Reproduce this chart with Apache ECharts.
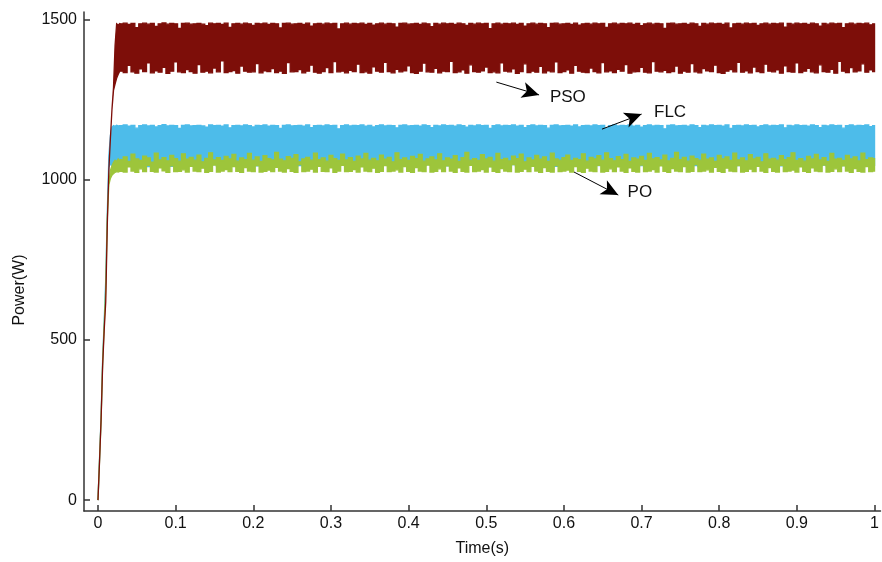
<!DOCTYPE html>
<html>
<head>
<meta charset="utf-8">
<script src="https://cdn.jsdelivr.net/npm/echarts@6/dist/echarts.min.js"></script>
<style>
  html, body { margin: 0; padding: 0; background: #fff; }
  #chart { width: 882px; height: 562px; }
</style>
</head>
<body>
<div id="chart"></div>
<script>
// time samples (s): start-up first, then the steady part
const time = [
  0, 0.002, 0.004, 0.006, 0.008, 0.010, 0.012, 0.014, 0.016, 0.018, 0.020, 0.022, 0.024, 0.026, 0.028,
  0.030, 0.035, 0.040, 0.045, 0.050, 0.055, 0.060, 0.065, 0.070, 0.075, 0.080, 0.085, 0.090, 0.095, 0.100, 0.105, 0.110, 0.115, 0.120, 0.125,
  0.130, 0.135, 0.140, 0.145, 0.150, 0.155, 0.160, 0.165, 0.170, 0.175, 0.180, 0.185, 0.190, 0.195, 0.200, 0.205, 0.210, 0.215, 0.220, 0.225,
  0.230, 0.235, 0.240, 0.245, 0.250, 0.255, 0.260, 0.265, 0.270, 0.275, 0.280, 0.285, 0.290, 0.295, 0.300, 0.305, 0.310, 0.315, 0.320, 0.325,
  0.330, 0.335, 0.340, 0.345, 0.350, 0.355, 0.360, 0.365, 0.370, 0.375, 0.380, 0.385, 0.390, 0.395, 0.400, 0.405, 0.410, 0.415, 0.420, 0.425,
  0.430, 0.435, 0.440, 0.445, 0.450, 0.455, 0.460, 0.465, 0.470, 0.475, 0.480, 0.485, 0.490, 0.495, 0.500, 0.505, 0.510, 0.515, 0.520, 0.525,
  0.530, 0.535, 0.540, 0.545, 0.550, 0.555, 0.560, 0.565, 0.570, 0.575, 0.580, 0.585, 0.590, 0.595, 0.600, 0.605, 0.610, 0.615, 0.620, 0.625,
  0.630, 0.635, 0.640, 0.645, 0.650, 0.655, 0.660, 0.665, 0.670, 0.675, 0.680, 0.685, 0.690, 0.695, 0.700, 0.705, 0.710, 0.715, 0.720, 0.725,
  0.730, 0.735, 0.740, 0.745, 0.750, 0.755, 0.760, 0.765, 0.770, 0.775, 0.780, 0.785, 0.790, 0.795, 0.800, 0.805, 0.810, 0.815, 0.820, 0.825,
  0.830, 0.835, 0.840, 0.845, 0.850, 0.855, 0.860, 0.865, 0.870, 0.875, 0.880, 0.885, 0.890, 0.895, 0.900, 0.905, 0.910, 0.915, 0.920, 0.925,
  0.930, 0.935, 0.940, 0.945, 0.950, 0.955, 0.960, 0.965, 0.970, 0.975, 0.980, 0.985, 0.990, 0.995, 1.000
];

// PSO: upper / lower edge of the oscillation (W)
const psoHigh = [
  0, 120, 250, 420, 530, 620, 860, 1030, 1130, 1220, 1290, 1420, 1488, 1484, 1489,
  1488,1490,1486,1489,1476,1488,1490,1487,1489,1480,1488,1491,1487,1489,1488,1474,1489,1490,1487,1488,
  1489,1487,1482,1490,1488,1489,1486,1490,1477,1488,1489,1487,1490,1488,1483,1489,1488,1490,1486,1489,
  1488,1475,1489,1490,1487,1488,1489,1486,1490,1481,1488,1489,1487,1490,1488,1489,1472,1488,1490,1487,
  1489,1488,1490,1486,1489,1484,1488,1490,1487,1489,1488,1478,1489,1490,1487,1488,1489,1486,1490,1488,
  1479,1489,1487,1490,1488,1489,1486,1490,1488,1483,1489,1487,1490,1488,1489,1473,1488,1490,1487,1489,
  1488,1490,1486,1489,1481,1488,1490,1487,1489,1488,1476,1489,1490,1487,1488,1489,1486,1490,1484,1488,
  1489,1487,1490,1488,1489,1477,1488,1490,1487,1489,1488,1490,1486,1489,1482,1488,1490,1487,1489,1488,
  1474,1489,1490,1487,1488,1489,1486,1490,1488,1480,1489,1487,1490,1488,1489,1486,1490,1475,1488,1489,
  1487,1490,1488,1489,1483,1488,1490,1487,1489,1488,1490,1478,1489,1487,1490,1488,1489,1486,1490,1488,
  1481,1489,1487,1490,1488,1489,1476,1488,1490,1487,1489,1488,1490,1485,1488
];
const psoLow = [
  0, 120, 250, 420, 530, 620, 860, 1030, 1130, 1220, 1280, 1300, 1318, 1330, 1340,
  1340,1336,1358,1338,1334,1347,1339,1366,1335,1341,1337,1352,1333,1340,1369,1338,1336,1345,1339,1334,
  1361,1337,1340,1335,1350,1338,1372,1336,1339,1342,1334,1356,1340,1337,1338,1364,1335,1341,1339,1348,
  1336,1340,1333,1367,1338,1339,1345,1335,1340,1359,1337,1334,1339,1351,1336,1370,1338,1340,1335,1343,
  1339,1362,1336,1338,1334,1354,1340,1337,1368,1339,1335,1346,1338,1341,1357,1336,1333,1340,1365,1338,
  1337,1349,1335,1340,1339,1371,1336,1338,1344,1334,1360,1339,1337,1341,1353,1336,1338,1335,1366,1340,
  1338,1347,1333,1339,1363,1336,1340,1337,1355,1335,1341,1338,1369,1336,1339,1344,1334,1358,1340,1337,
  1336,1350,1339,1335,1367,1338,1341,1336,1346,1340,1361,1334,1338,1339,1352,1337,1335,1370,1340,1338,
  1343,1336,1339,1356,1334,1340,1337,1364,1338,1335,1348,1341,1339,1359,1336,1333,1340,1345,1338,1368,
  1337,1341,1335,1353,1339,1336,1362,1340,1338,1344,1334,1357,1339,1337,1366,1336,1340,1349,1338,1335,
  1360,1339,1337,1346,1334,1371,1340,1336,1351,1338,1341,1363,1337,1344,1339
];

// FLC
const flcHigh = [
  0, 130, 260, 440, 560, 690, 900, 1075, 1140, 1165, 1170, 1168, 1171, 1169, 1170,
  1170,1172,1168,1171,1162,1170,1172,1169,1171,1166,1170,1173,1169,1171,1170,1161,1171,1172,1169,1170,
  1171,1169,1165,1172,1170,1171,1168,1172,1163,1170,1171,1169,1172,1170,1166,1171,1170,1172,1168,1171,
  1170,1161,1171,1172,1169,1170,1171,1168,1172,1164,1170,1171,1169,1172,1170,1171,1160,1170,1172,1169,
  1171,1170,1172,1168,1171,1166,1170,1172,1169,1171,1170,1163,1171,1172,1169,1170,1171,1168,1172,1170,
  1164,1171,1169,1172,1170,1171,1168,1172,1170,1165,1171,1169,1172,1170,1171,1161,1170,1172,1169,1171,
  1170,1172,1168,1171,1164,1170,1172,1169,1171,1170,1162,1171,1172,1169,1170,1171,1168,1172,1166,1170,
  1171,1169,1172,1170,1171,1162,1170,1172,1169,1171,1170,1172,1168,1171,1165,1170,1172,1169,1171,1170,
  1160,1171,1172,1169,1170,1171,1168,1172,1170,1164,1171,1169,1172,1170,1171,1168,1172,1161,1170,1171,
  1169,1172,1170,1171,1166,1170,1172,1169,1171,1170,1172,1163,1171,1169,1172,1170,1171,1168,1172,1170,
  1164,1171,1169,1172,1170,1171,1162,1170,1172,1169,1171,1170,1172,1167,1170
];
const flcLow = [
  0, 130, 260, 440, 560, 690, 900, 1040, 1050, 1046, 1044, 1047, 1045, 1046, 1044,
  1046,1044,1048,1045,1043,1047,1046,1042,1049,1045,1044,1047,1046,1043,1048,1045,1044,1046,1047,1043,
  1045,1047,1044,1046,1048,1043,1045,1047,1046,1044,1049,1045,1043,1046,1047,1044,1048,1045,1046,1042,
  1047,1045,1043,1048,1046,1044,1045,1047,1042,1046,1045,1048,1044,1046,1043,1047,1045,1049,1044,1046,
  1044,1046,1047,1043,1045,1048,1046,1044,1047,1045,1042,1046,1048,1045,1044,1047,1043,1046,1045,1048,
  1046,1043,1045,1047,1044,1046,1049,1045,1043,1047,1046,1044,1048,1045,1046,1042,1047,1045,1044,1046,
  1045,1048,1044,1046,1043,1047,1045,1046,1049,1044,1045,1047,1043,1046,1048,1045,1044,1046,1047,1043,
  1047,1044,1046,1045,1048,1043,1046,1044,1047,1045,1042,1046,1048,1044,1045,1047,1046,1043,1045,1048,
  1044,1046,1043,1047,1045,1048,1044,1046,1045,1042,1047,1046,1044,1049,1045,1043,1046,1047,1044,1045,
  1046,1045,1048,1043,1046,1044,1047,1045,1046,1049,1044,1045,1043,1047,1046,1044,1048,1045,1046,1043,
  1045,1047,1044,1046,1048,1043,1045,1046,1047,1044,1046,1045,1048,1044,1046
];

// PO
const poHigh = [
  0, 125, 250, 430, 545, 660, 880, 990, 1030, 1045, 1055, 1062, 1058, 1066, 1061,
  1064,1072,1058,1081,1066,1061,1075,1069,1056,1084,1063,1070,1060,1077,1067,1059,1082,1065,1071,1062,
  1078,1057,1068,1085,1063,1070,1061,1074,1066,1080,1059,1069,1064,1083,1062,1072,1058,1076,1067,1063,
  1086,1065,1060,1073,1068,1079,1057,1066,1071,1062,1084,1064,1069,1059,1077,1067,1061,1081,1063,1070,
  1058,1075,1066,1083,1062,1068,1060,1078,1065,1071,1057,1085,1064,1069,1061,1074,1067,1080,1059,1066,
  1072,1063,1082,1060,1069,1065,1076,1058,1070,1086,1062,1067,1061,1079,1066,1071,1059,1083,1064,1068,
  1060,1075,1067,1081,1057,1069,1063,1077,1065,1072,1058,1084,1066,1062,1070,1078,1061,1068,1064,1082,
  1059,1071,1066,1076,1062,1085,1067,1060,1073,1064,1080,1058,1069,1065,1074,1061,1083,1066,1070,1063,
  1078,1060,1068,1086,1064,1071,1059,1075,1067,1062,1081,1065,1069,1058,1077,1066,1072,1061,1084,1063,
  1069,1060,1079,1066,1071,1057,1082,1065,1068,1062,1076,1064,1070,1085,1061,1067,1059,1074,1066,1080,
  1063,1070,1058,1083,1065,1068,1061,1077,1066,1072,1060,1084,1064,1069,1067
];
const poLow = [
  0, 125, 250, 430, 545, 660, 880, 985, 1005, 1015, 1020, 1024, 1026, 1025, 1027,
  1027,1025,1041,1028,1024,1035,1026,1046,1027,1025,1038,1029,1024,1044,1026,1027,1032,1025,1043,1028,
  1026,1037,1024,1027,1047,1025,1028,1033,1026,1042,1027,1024,1039,1028,1026,1045,1025,1027,1031,1026,
  1040,1028,1025,1036,1027,1024,1048,1026,1028,1034,1025,1043,1027,1026,1038,1024,1028,1046,1026,1027,
  1033,1025,1041,1028,1026,1037,1024,1027,1045,1026,1028,1032,1025,1042,1027,1024,1039,1028,1026,1047,
  1025,1027,1035,1026,1044,1028,1024,1038,1027,1025,1046,1026,1028,1033,1025,1041,1027,1024,1036,1028,
  1026,1048,1025,1027,1034,1026,1043,1028,1024,1039,1027,1025,1045,1026,1028,1031,1025,1042,1027,1024,
  1037,1028,1026,1046,1025,1027,1035,1026,1041,1028,1024,1038,1027,1025,1047,1026,1028,1033,1025,1044,
  1027,1024,1036,1028,1026,1042,1025,1027,1048,1026,1028,1032,1025,1040,1027,1024,1037,1028,1026,1045,
  1025,1027,1034,1026,1043,1028,1024,1039,1027,1025,1046,1026,1028,1031,1025,1041,1027,1024,1038,1028,
  1026,1047,1025,1027,1035,1026,1044,1028,1024,1036,1027,1025,1042,1026,1028
];

const xTicks = [0, 0.1, 0.2, 0.3, 0.4, 0.5, 0.6, 0.7, 0.8, 0.9, 1];
const yTicks = [0, 500, 1000, 1500];

// arrows + labels: [name, arrow start, arrow end, label anchor]
const notes = [
  ['PSO', [0.513, 1306], [0.568, 1266], [0.582, 1258]],
  ['FLC', [0.649, 1159], [0.700, 1206], [0.716, 1212]],
  ['PO',  [0.613, 1025], [0.670, 953],  [0.682, 962]]
];

const font = "'Liberation Sans', Arial, sans-serif";
const steadyFrom = 0.03;   // before this the start-up ramp is drawn as a plain line

let chart = echarts.init(document.getElementById('chart'), null, { renderer: 'canvas' });

// 一条带：上沿 high、下沿 low，稳态部分为阶梯形多边形
function band(name, color, low, high) {
    return {
        name: name,
        type: 'custom',
        silent: true,
        clip: true,
        encode: { x: 0, y: [1, 2] },
        data: time.map((t, i) => [t, low[i], high[i]]),
        renderItem: function (params, api) {
            if (params.dataIndex !== 0) return null;
            let top = [], bottom = [];
            let n = time.length;
            for (let i = 0; i < n; i++) {
                if (time[i] < steadyFrom) {
                    top.push(api.coord([time[i], high[i]]));
                    bottom.push(api.coord([time[i], low[i]]));
                    continue;
                }
                let a = (time[i - 1] + time[i]) / 2;
                let b = i === n - 1 ? time[i] : (time[i] + time[i + 1]) / 2;
                top.push(api.coord([a, high[i]]), api.coord([b, high[i]]));
                bottom.push(api.coord([a, low[i]]), api.coord([b, low[i]]));
            }
            return {
                type: 'polygon',
                shape: { points: top.concat(bottom.reverse()) },
                style: { fill: color, stroke: color, lineWidth: 1.3 }
            };
        }
    };
}

let series = [
    band('FLC', '#4dbcea', flcLow, flcHigh),
    band('PO', '#9dc53b', poLow, poHigh),
    band('PSO', '#7d0e09', psoLow, psoHigh)
];

series.push({
    name: 'notes',
    type: 'line',
    data: [],
    silent: true,
    z: 10,
    markLine: {
        silent: true,
        symbol: ['none', 'arrow'],
        symbolSize: [12, 17],
        label: { show: false },
        lineStyle: { color: '#000', width: 1, type: 'solid' },
        data: notes.map(n => [{ coord: n[1] }, { coord: n[2] }])
    },
    markPoint: {
        silent: true,
        symbol: 'circle',
        symbolSize: 0,
        label: {
            show: true,
            position: 'right',
            distance: 0,
            color: '#111',
            fontSize: 17,
            fontFamily: font,
            formatter: p => p.name
        },
        data: notes.map(n => ({ name: n[0], coord: n[3] }))
    }
});

chart.setOption({
    animation: false,
    backgroundColor: '#fff',
    grid: {
        left: 84,
        right: 1,
        top: 12,
        bottom: 51
    },
    xAxis: {
        type: 'value',
        min: -0.018,
        max: 1.0077,
        name: 'Time(s)',
        nameLocation: 'middle',
        nameGap: 30,
        nameTextStyle: { color: '#111', fontSize: 16, fontFamily: font },
        axisLine: { show: true, onZero: false, lineStyle: { color: '#333', width: 1.5 } },
        axisTick: { show: true, inside: true, length: 6, customValues: xTicks, lineStyle: { color: '#333', width: 1.5 } },
        axisLabel: { customValues: xTicks, color: '#111', fontSize: 16, fontFamily: font, margin: 5,
            formatter: v => String(v) },
        splitLine: { show: false }
    },
    yAxis: {
        type: 'value',
        min: -34,
        max: 1525,
        name: 'Power(W)',
        nameLocation: 'middle',
        nameGap: 56,
        nameTextStyle: { color: '#111', fontSize: 16, fontFamily: font, padding: [0, 57, 0, 0] },
        axisLine: { show: true, onZero: false, lineStyle: { color: '#333', width: 1.5 } },
        axisTick: { show: true, inside: true, length: 6, customValues: yTicks, lineStyle: { color: '#333', width: 1.5 } },
        axisLabel: { customValues: yTicks, color: '#111', fontSize: 16, fontFamily: font, margin: 7,
            formatter: v => String(v) },
        splitLine: { show: false }
    },
    series: series
});
</script>
</body>
</html>
